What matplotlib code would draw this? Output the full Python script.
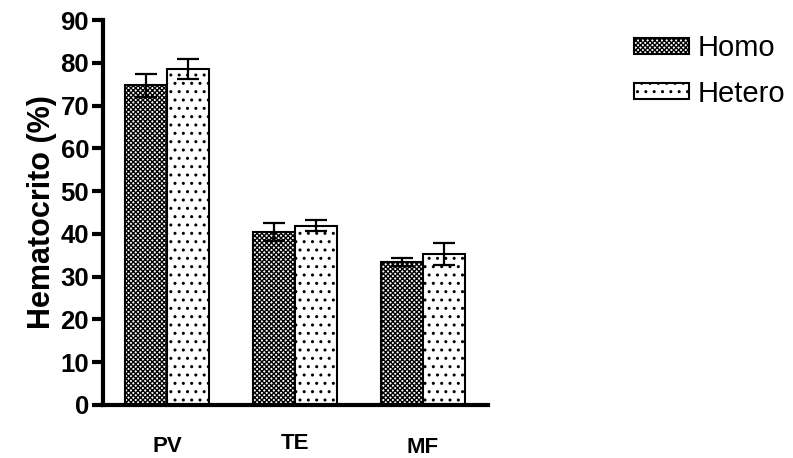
import matplotlib
matplotlib.use("Agg")
import matplotlib.pyplot as plt
import numpy as np

# datos
grupos = ["PV", "TE", "MF"]
homo = [74.7, 40.5, 33.4]
homo_err = [2.6, 2.1, 0.9]
hetero = [78.5, 41.9, 35.3]
hetero_err = [2.4, 1.3, 2.6]
yticks = [0, 10, 20, 30, 40, 50, 60, 70, 80, 90]

plt.rcParams["font.family"] = ["Liberation Sans", "DejaVu Sans"]
plt.rcParams["hatch.linewidth"] = 1.0

fig = plt.figure(figsize=(7.93, 4.58), dpi=100)
ax = fig.add_axes([103 / 793, 1 - 405 / 458, (488 - 103) / 793, (405 - 20) / 458])

x = np.arange(len(grupos))
w = 0.33
err_kw = dict(ecolor="black", elinewidth=1.6, capsize=8, capthick=1.6)

ax.bar(x - w / 2, homo, w, yerr=homo_err, color="white", edgecolor="black",
       hatch="xxxxxxx", linewidth=1.5, label="Homo", error_kw=err_kw, zorder=2)
ax.bar(x + w / 2, hetero, w, yerr=hetero_err, color="white", edgecolor="black",
       hatch="..", linewidth=1.5, label="Hetero", error_kw=err_kw, zorder=2)

ax.set_xlim(-0.5, 2.51)
ax.set_ylim(0, 90)
ax.set_yticks(yticks)
ax.set_yticklabels([str(v) for v in yticks], fontsize=18.5, fontweight="bold")
ax.set_xticks(x)
ax.set_xticklabels(grupos, fontsize=16, fontweight="bold")
ax.tick_params(axis="x", length=0)
ax.tick_params(axis="y", length=8, width=3, pad=2)
# etiquetas del eje x ligeramente desplazadas como en el original
for tick, pad in zip(ax.xaxis.get_major_ticks(), [22, 20.5, 23]):
    tick.set_pad(pad)

for s in ["top", "right"]:
    ax.spines[s].set_visible(False)
for s in ["left", "bottom"]:
    ax.spines[s].set_linewidth(3)

ax.set_ylabel("Hematocrito (%)", fontsize=22, fontweight="bold")
ax.yaxis.set_label_coords(-0.119, 0.5)

fig.legend(loc="upper left", bbox_to_anchor=(634 / 793, 1 - 34 / 458), frameon=False,
           fontsize=21, handlelength=1.88, handleheight=0.48, labelspacing=0.6,
           handletextpad=0.31, borderpad=0, borderaxespad=0)

fig.savefig("out.png", dpi=100)
